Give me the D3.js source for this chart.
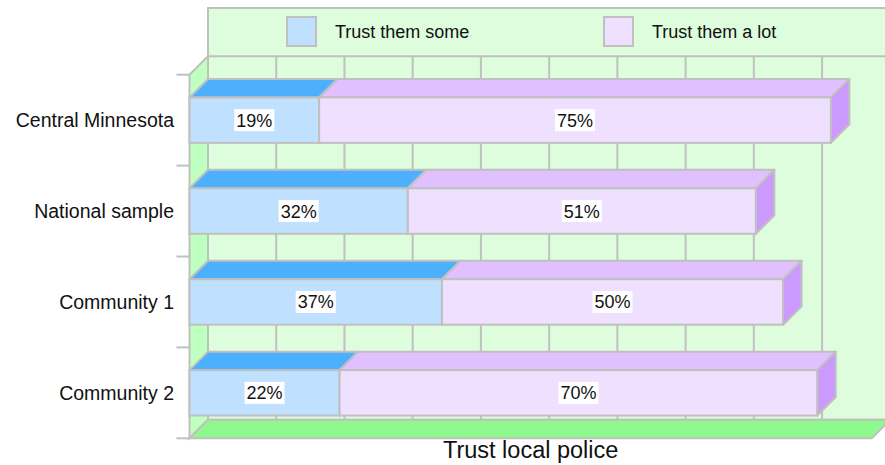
<!DOCTYPE html>
<html>
<head>
<meta charset="utf-8">
<script src="https://cdn.jsdelivr.net/npm/d3@7"></script>
<style>
  body { margin: 0; background: #fff; }
  text { font-family: "Liberation Sans", Arial, Helvetica, sans-serif; fill: #111; }
</style>
</head>
<body>
<div id="chart"></div>
<script>
// data
const categories = ["Central Minnesota", "National sample", "Community 1", "Community 2"];
const seriesNames = ["Trust them some", "Trust them a lot"];
const trustSome = [19, 32, 37, 22];
const trustALot = [75, 51, 50, 70];
const axisTitle = "Trust local police";

const width = 885, height = 465;
const depth = 18.5;               // 3d offset
const front = {left: 189.5, right: 871.8, top: 74.7, bottom: 438.3};

const colors = {
  front: ["#bfe0ff", "#f0e0ff"],
  top:   ["#4db0ff", "#e0c0ff"],
  side:  ["#3d95e6", "#cc99ff"]
};
const edge = "#c0c0c0";

const svg = d3.select("#chart").append("svg")
  .attr("width", width)
  .attr("height", height);

const x = d3.scaleLinear().domain([0, 100]).range([front.left, front.right]);
const y = d3.scaleBand().domain(categories)
  .range([front.top, front.bottom])
  .paddingInner(0.5).paddingOuter(0.25);

const poly = pts => pts.map(p => p.join(",")).join(" ");

// back wall (legend strip + plot wall)
svg.append("rect")
  .attr("x", front.left + depth).attr("y", 8)
  .attr("width", width).attr("height", front.bottom - depth - 8)
  .attr("fill", "#ddfddd").attr("stroke", edge).attr("stroke-width", 2);
svg.append("line")
  .attr("x1", front.left + depth).attr("x2", width + 10)
  .attr("y1", front.top - depth).attr("y2", front.top - depth)
  .attr("stroke", edge).attr("stroke-width", 2);

// gridlines on back wall
svg.append("g").selectAll("line")
  .data(x.ticks(10).filter(d => d > 0 && d < 100))
  .join("line")
  .attr("x1", d => x(d) + depth).attr("x2", d => x(d) + depth)
  .attr("y1", front.top - depth).attr("y2", front.bottom - depth)
  .attr("stroke", edge).attr("stroke-width", 2);

// left wall
svg.append("polygon")
  .attr("points", poly([[front.left, front.top], [front.left + depth, front.top - depth],
    [front.left + depth, front.bottom - depth], [front.left, front.bottom]]))
  .attr("fill", "#bfffbf").attr("stroke", edge).attr("stroke-width", 2);

// floor
svg.append("polygon")
  .attr("points", poly([[front.left, front.bottom], [front.left + depth, front.bottom - depth],
    [front.right + depth, front.bottom - depth], [front.right, front.bottom]]))
  .attr("fill", "#8efa8e").attr("stroke", edge).attr("stroke-width", 2);

// y ticks at band edges
const edges = categories.map(c => y(c) - y.step() * y.paddingInner() / 2).concat([front.bottom]);
edges[0] = front.top;
svg.append("g").selectAll("line")
  .data(edges)
  .join("line")
  .attr("x1", front.left - 13).attr("x2", front.left)
  .attr("y1", d => d).attr("y2", d => d)
  .attr("stroke", edge).attr("stroke-width", 2);

// category labels
svg.append("g").selectAll("text")
  .data(categories)
  .join("text")
  .attr("x", 174)
  .attr("y", d => y(d) + y.bandwidth() / 2)
  .attr("dy", "0.35em")
  .attr("text-anchor", "end")
  .style("font-size", "19.5px")
  .text(d => d);

// stacked 3d bars
const rows = categories.map((c, i) => {
  const vals = [trustSome[i], trustALot[i]];
  let acc = 0;
  return vals.map((v, s) => {
    const seg = {cat: c, s: s, v: v, x0: acc, x1: acc + v};
    acc += v;
    return seg;
  });
});

rows.forEach(segs => {
  const g = svg.append("g");
  segs.forEach(d => {
    const yt = y(d.cat), yb = y(d.cat) + y.bandwidth();
    const xa = x(d.x0), xb = x(d.x1);
    g.append("polygon")
      .attr("points", poly([[xa, yt], [xa + depth, yt - depth], [xb + depth, yt - depth], [xb, yt]]))
      .attr("fill", colors.top[d.s]).attr("stroke", edge).attr("stroke-width", 2)
      .attr("stroke-linejoin", "round");
    g.append("polygon")
      .attr("points", poly([[xb, yt], [xb + depth, yt - depth], [xb + depth, yb - depth], [xb, yb]]))
      .attr("fill", colors.side[d.s]).attr("stroke", edge).attr("stroke-width", 2)
      .attr("stroke-linejoin", "round");
    g.append("rect")
      .attr("x", xa).attr("y", yt)
      .attr("width", xb - xa).attr("height", yb - yt)
      .attr("fill", colors.front[d.s]).attr("stroke", edge).attr("stroke-width", 2);
  });
  // value labels with white boxes
  segs.forEach(d => {
    const cx = (x(d.x0) + x(d.x1)) / 2, cy = y(d.cat) + y.bandwidth() / 2;
    const lg = g.append("g");
    const t = lg.append("text")
      .attr("x", cx).attr("y", cy)
      .attr("dy", "0.36em")
      .attr("text-anchor", "middle")
      .style("font-size", "18px")
      .text(d.v + "%");
    const bb = t.node().getBBox();
    lg.insert("rect", "text")
      .attr("x", bb.x - 2).attr("y", cy - 11)
      .attr("width", bb.width + 4).attr("height", 22)
      .attr("fill", "#fff");
  });
});

// legend
const legend = svg.append("g").selectAll("g")
  .data(seriesNames)
  .join("g")
  .attr("transform", (d, i) => `translate(${[287, 604][i]}, 17)`);
legend.append("rect")
  .attr("width", 29).attr("height", 29)
  .attr("fill", (d, i) => colors.front[i])
  .attr("stroke", edge).attr("stroke-width", 2);
legend.append("text")
  .attr("x", 48).attr("y", 20.5)
  .style("font-size", "18px")
  .text(d => d);

// axis title
svg.append("text")
  .attr("x", (front.left + front.right) / 2)
  .attr("y", 458)
  .attr("text-anchor", "middle")
  .style("font-size", "23.5px")
  .text(axisTitle);
</script>
</body>
</html>
